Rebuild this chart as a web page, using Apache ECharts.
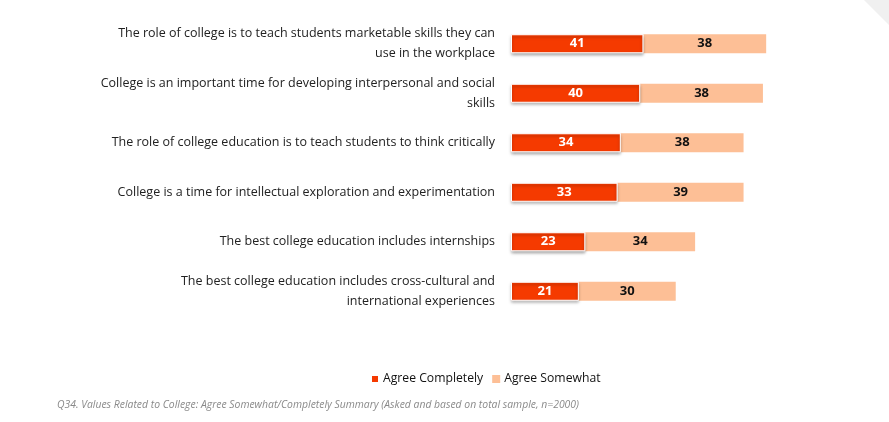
<!DOCTYPE html>
<html>
<head>
<meta charset="utf-8">
<script src="https://cdn.jsdelivr.net/npm/echarts@6/dist/echarts.min.js"></script>
<style>
html,body{margin:0;padding:0;background:#fff;}
#chart{width:889px;height:422px;}
</style>
</head>
<body>
<div id="chart"></div>
<script>
var categories = [
  "The role of college is to teach students marketable skills they can\nuse in the workplace",
  "College is an important time for developing interpersonal and social\nskills",
  "The role of college education is to teach students to think critically",
  "College is a time for intellectual exploration and experimentation",
  "The best college education includes internships",
  "The best college education includes cross-cultural and\ninternational experiences"
];
var agreeCompletely = [41, 40, 34, 33, 23, 21];
var agreeSomewhat = [38, 38, 38, 39, 34, 30];
var seriesNames = ["Agree Completely", "Agree Somewhat"];
var footnote = "Q34. Values Related to College: Agree Somewhat/Completely Summary (Asked and based on total sample, n=2000)";

var chart = echarts.init(document.getElementById('chart'));
var font = "'Open Sans', sans-serif";
chart.setOption({
  animation: false,
  grid: {left: 511, right: 55, top: 19, bottom: 106, containLabel: false},
  xAxis: {type: 'value', min: 0, max: 100, show: false},
  yAxis: {
    type: 'category', inverse: true, data: categories,
    axisLine: {show: false}, axisTick: {show: false},
    axisLabel: {margin: 16, fontFamily: font, fontSize: 12.5, color: '#222', lineHeight: 20, align: 'right'}
  },
  legend: {
    top: 368, left: 365, itemWidth: 8, itemHeight: 8, itemGap: 9,
    icon: 'rect',
    textStyle: {fontFamily: font, fontSize: 12.2, color: '#111', padding: [0, 0, 0, -1]},
    data: seriesNames
  },
  graphic: [
    {type: 'text', left: 57, top: 400, style: {text: footnote, fontFamily: font, fontSize: 10.4, fontStyle: 'italic', fill: '#8a8a8a'}},
    {type: 'polygon', shape: {points: [[864,0],[889,0],[889,25]]}, style: {fill: '#f0f0f0'}}
  ],
  series: [
    {
      name: seriesNames[0], type: 'bar', stack: 'a', data: agreeCompletely, barWidth: 19, z: 3,
      itemStyle: {color: '#F53A00', borderColor: '#fff', borderWidth: 1, shadowBlur: 3, shadowColor: 'rgba(0,0,0,0.35)', shadowOffsetY: 2, shadowOffsetX: 0},
      label: {show: true, position: 'inside', color: '#fff', fontFamily: font, fontWeight: 'bold', fontSize: 13}
    },
    {
      name: seriesNames[1], type: 'bar', stack: 'a', data: agreeSomewhat, barWidth: 19, z: 2,
      itemStyle: {color: '#FDBF96'},
      label: {show: true, position: 'inside', color: '#111', fontFamily: font, fontWeight: 'bold', fontSize: 13}
    }
  ]
});
</script>
</body>
</html>
